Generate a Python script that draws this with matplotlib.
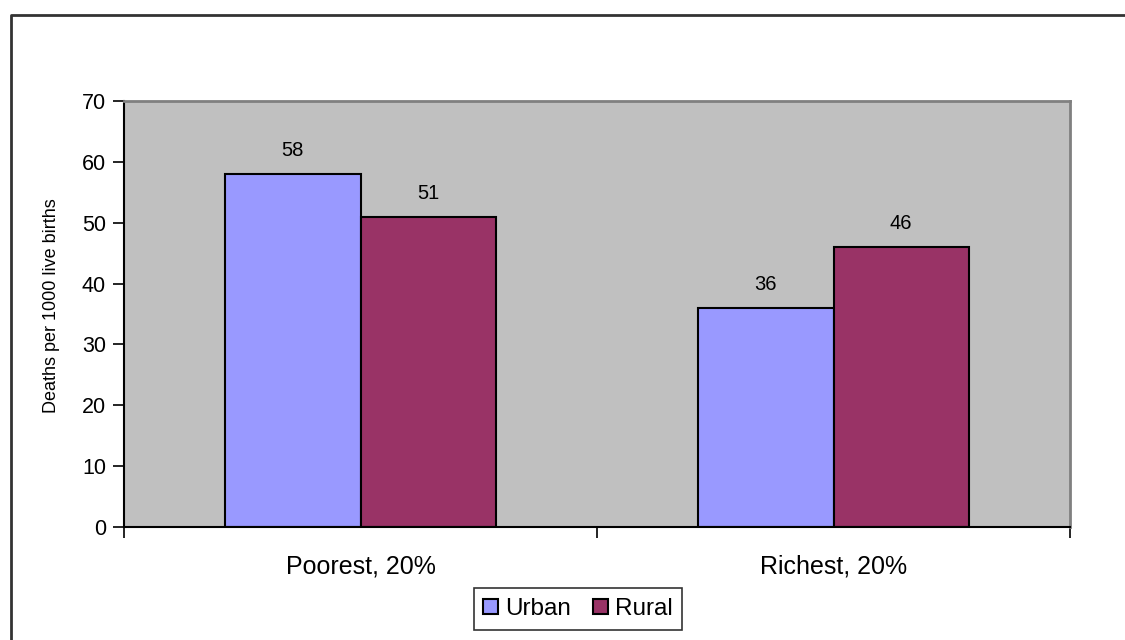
import numpy as np
import matplotlib.pyplot as plt
from matplotlib.lines import Line2D

# === DATA ===
categories = ["Poorest, 20%", "Richest, 20%"]
urban = [58, 36]
rural = [51, 46]
series_names = ["Urban", "Rural"]
yticks = [0, 10, 20, 30, 40, 50, 60, 70]

plt.rcParams["font.family"] = ["Liberation Sans", "DejaVu Sans"]

fig = plt.figure(figsize=(11.25, 6.4), dpi=100)
ax = fig.add_axes([124 / 1125, 1 - 527 / 640, 946 / 1125, 426 / 640])
ax.set_facecolor("#C0C0C0")

# === BARS ===
x = np.arange(len(categories))
w = 0.286
b1 = ax.bar(x - w / 2, urban, w, color="#9999FF", edgecolor="black", linewidth=1.5, label=series_names[0])
b2 = ax.bar(x + w / 2, rural, w, color="#993366", edgecolor="black", linewidth=1.5, label=series_names[1])
for bars in (b1, b2):
    ax.bar_label(bars, padding=10, fontsize=14.5)

# === AXES ===
ax.set_xlim(-0.5, 1.5)
ax.set_ylim(0, 70)
ax.set_yticks(yticks)
ax.tick_params(axis="y", direction="out", length=8, width=1.2, labelsize=15.5, pad=5)
ax.set_xticks(x)
ax.set_xticklabels(categories, fontsize=18)
ax.set_xticks([-0.5, 0.5, 1.5], minor=True)
ax.tick_params(axis="x", which="major", length=0, pad=20)
ax.tick_params(axis="x", which="minor", direction="out", length=8, width=1.2)

ax.set_ylabel("Deaths per 1000 live births", fontsize=13)
ax.yaxis.set_label_coords(-0.068, 0.52)

for s in ["left", "bottom"]:
    ax.spines[s].set_color("black")
    ax.spines[s].set_linewidth(1.5)
for s in ["top", "right"]:
    ax.spines[s].set_color("#808080")
    ax.spines[s].set_linewidth(2)

# === LEGEND ===
leg = fig.legend(loc="center", bbox_to_anchor=(578 / 1125, 1 - 609 / 640), ncol=2,
                 fontsize=17.5, frameon=True, fancybox=False, edgecolor="black",
                 handlelength=0.6, handleheight=0.6, handletextpad=0.3,
                 columnspacing=0.9, borderpad=0.4, borderaxespad=0.0)
leg.get_frame().set_linewidth(1.2)

# === OUTER FRAME (partly off-canvas) ===
fx = 11 / 1125
fy = 1 - 15 / 640
fig.add_artist(Line2D([fx, fx, 1.0], [0.0, fy, fy], transform=fig.transFigure,
                      color="#333333", linewidth=2))

fig.savefig("out.png", dpi=100)
